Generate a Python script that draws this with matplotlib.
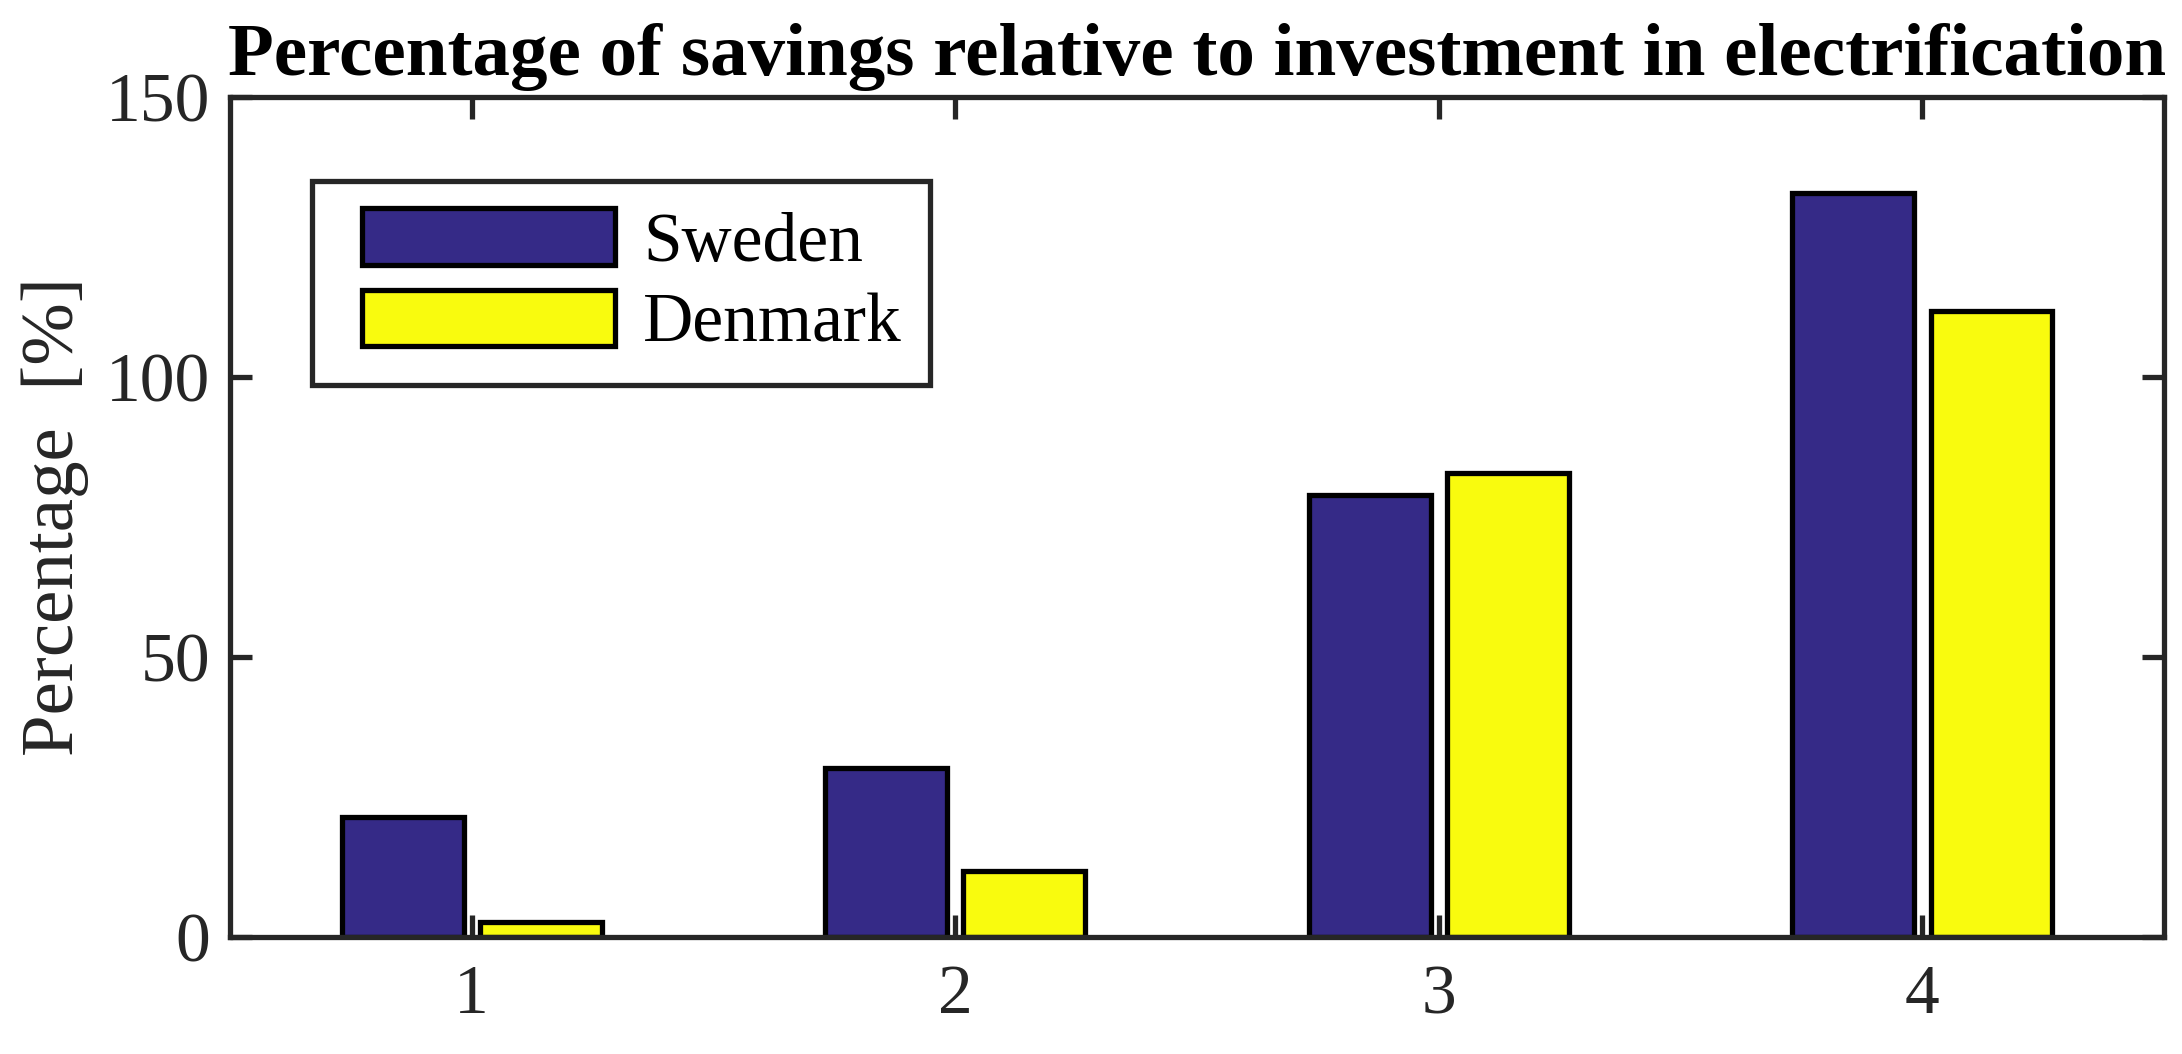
import matplotlib.pyplot as plt
import numpy as np
from matplotlib.legend_handler import HandlerPatch
from matplotlib.patches import Rectangle

# values
categories = [1, 2, 3, 4]
sweden = [21.4, 30.1, 78.9, 132.8]
denmark = [2.7, 11.7, 82.8, 111.7]
series_names = ['Sweden', 'Denmark']
y_ticks = [0, 50, 100, 150]

plt.rcParams['font.family'] = ['Liberation Serif', 'DejaVu Serif']
axis_color = '#262626'
lw = 3.8


def shifted_patch(legend, orig_handle, xdescent, ydescent, width, height, fontsize):
    # leave some extra room on the left of each legend swatch
    pad = 0.32 * fontsize
    return Rectangle((-xdescent + pad, -ydescent), width - pad, height)


fig = plt.figure(figsize=(21.82, 10.54), dpi=100)
ax = fig.add_axes([0.1054, 0.111, 0.8864, 0.797])

x = np.array(categories, dtype=float)
offset = 0.143
bar_w = 0.252
b1 = ax.bar(x - offset, sweden, width=bar_w, color='#352A87', edgecolor='black',
            linewidth=lw, zorder=2)
b2 = ax.bar(x + offset, denmark, width=bar_w, color='#F9FB0E', edgecolor='black',
            linewidth=lw, zorder=2)

ax.set_xlim(0.5, 4.5)
ax.set_ylim(0, 150)
ax.set_xticks(categories)
ax.set_yticks(y_ticks)
ax.set_axisbelow(True)
ax.tick_params(direction='in', length=16, width=lw, colors=axis_color,
               labelsize=50, top=True, right=True, pad=14)
ax.tick_params(axis='x', pad=20)
for sp in ax.spines.values():
    sp.set_linewidth(lw)
    sp.set_color(axis_color)
    sp.set_zorder(4)

ax.set_ylabel('Percentage  [%]', fontsize=54, color=axis_color, labelpad=12)
ax.set_title('Percentage of savings relative to investment in electrification',
             fontsize=54, fontweight='bold', pad=16)

leg = ax.legend([b1[0], b2[0]], series_names,
                handler_map={Rectangle: HandlerPatch(patch_func=shifted_patch)},
                loc='upper left', bbox_to_anchor=(0.0424, 0.9005),
                fontsize=50, handlelength=3.97, handleheight=0.88, handletextpad=0.4,
                labelspacing=0.2, borderpad=0.4, borderaxespad=0,
                fancybox=False, framealpha=1)
leg.get_frame().set_edgecolor(axis_color)
leg.get_frame().set_linewidth(lw)

fig.savefig('out.png', dpi=100)
